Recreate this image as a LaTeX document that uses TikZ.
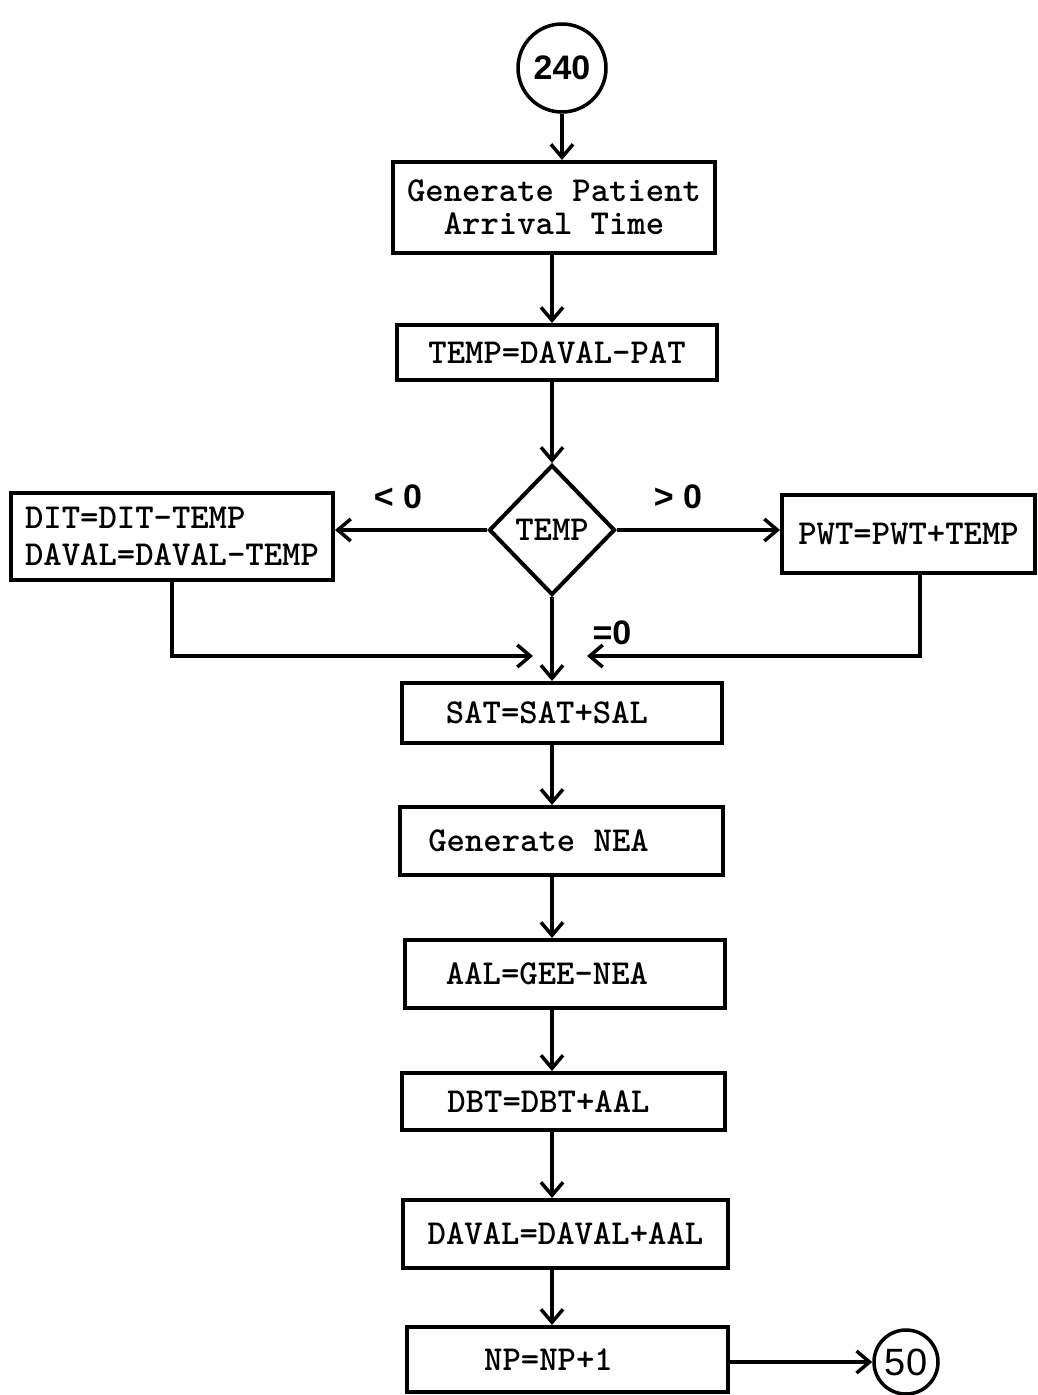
\documentclass[tikz,border=0pt]{standalone}
\usepackage{fontspec}
\newfontfamily\handfont{Liberation Sans}
\usetikzlibrary{arrows.meta,shapes.geometric}
\begin{document}
\begin{tikzpicture}[x=1pt,y=-1pt,
  box/.style={draw, rectangle, line width=4pt, inner sep=0pt, line join=miter,
    font=\ttfamily\bfseries\fontsize{35}{33}\selectfont},
  conn/.style={line width=3.5pt, -{Straight Barb[length=13pt,width=22pt]}},
  term/.style={draw, circle, line width=3.5pt, inner sep=0pt},
  lbl/.style={font=\handfont\bfseries\fontsize{34}{38}\selectfont, inner sep=0pt}
]
\useasboundingbox (0,0) rectangle (1038,1395);

% nodes
\node[term, minimum size=88pt, font=\handfont\bfseries\fontsize{34}{38}\selectfont] (c240) at (562,68) {240};
\node[box, minimum width=322pt, minimum height=91pt, align=center] (gen) at (554,207.5) {Generate Patient\\Arrival Time};
\node[box, minimum width=320pt, minimum height=55pt] (temp) at (557,352.5) {TEMP=DAVAL-PAT};
\node[draw, diamond, line width=4pt, inner sep=0pt, line join=miter, minimum width=126pt, minimum height=130pt,
  font=\ttfamily\bfseries\fontsize{35}{33}\selectfont] (dec) at (552,530) {TEMP};
\node[box, minimum width=322pt, minimum height=87pt, align=left,
  font=\ttfamily\bfseries\fontsize{35}{37}\selectfont] (dit) at (172,536.5) {DIT=DIT-TEMP\\DAVAL=DAVAL-TEMP};
\node[box, minimum width=253pt, minimum height=78pt] (pwt) at (908.5,534) {PWT=PWT+TEMP};
\node[box, minimum width=320pt, minimum height=60pt] (sat) at (562,713) {SAT=SAT+SAL\hspace*{30pt}};
\node[box, minimum width=323pt, minimum height=68pt] (nea) at (561.5,841) {Generate NEA\hspace*{46pt}};
\node[box, minimum width=320pt, minimum height=68pt] (aal) at (565,974) {AAL=GEE-NEA\hspace*{36pt}};
\node[box, minimum width=323pt, minimum height=57pt] (dbt) at (563.5,1101.5) {DBT=DBT+AAL\hspace*{30pt}};
\node[box, minimum width=325pt, minimum height=68pt] (daval) at (565.5,1234) {DAVAL=DAVAL+AAL};
\node[box, minimum width=321pt, minimum height=65pt] (np) at (567.5,1359.5) {NP=NP+1\hspace*{38pt}};
\node[term, minimum size=64pt, font=\handfont\fontsize{38}{40}\selectfont] (c50) at (906,1362) {50};

\coordinate (mL) at (533,656);
\coordinate (mR) at (587,656);

% labels
\node[lbl] (lt) at (398,497) {<~0};
\node[lbl] (gt) at (678,497) {>~0};
\node[lbl] (eq) at (612,633) {=0};

% connectors
\draw[conn] (c240.south) -- (c240.south |- gen.north);
\draw[conn] (gen.south -| dec.center) -- (temp.north -| dec.center);
\draw[conn] (temp.south -| dec.center) -- (dec.north);
\draw[conn] (dec.west) -- (dec.west -| dit.east);
\draw[conn] (dec.east) -- (dec.east -| pwt.west);
\draw[conn] (dec.south) -- (dec.south |- sat.north);
\draw[conn] (dit.south) |- (mL);
\draw[conn] ([xshift=11.5pt]pwt.south) |- (mR);
\draw[conn] (sat.south -| dec.center) -- (nea.north -| dec.center);
\draw[conn] (nea.south -| dec.center) -- (aal.north -| dec.center);
\draw[conn] (aal.south -| dec.center) -- (dbt.north -| dec.center);
\draw[conn] (dbt.south -| dec.center) -- (daval.north -| dec.center);
\draw[conn] (daval.south -| dec.center) -- (np.north -| dec.center);
\draw[conn] (np.east |- c50.west) -- (c50.west);
\end{tikzpicture}
\end{document}
